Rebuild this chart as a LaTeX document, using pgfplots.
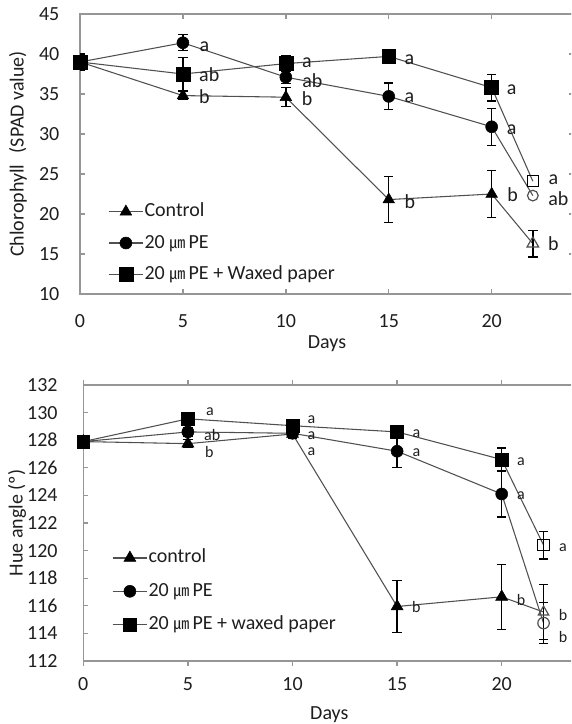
\documentclass[border=0pt]{standalone}
\usepackage{pgfplots}
\pgfplotsset{compat=1.18}
\usepackage{pgfplotstable}
\usepackage{fontspec}
\setmainfont{Carlito}
\newfontfamily\cjk{Noto Sans CJK KR}
\newcommand{\um}{{\cjk\fontsize{12}{12}\selectfont ㎛}}

% Chlorophyll (SPAD)
\pgfplotstableread{
x y e
0 39.0 0.3
5 34.8 0.5
10 34.6 1.2
15 21.8 2.85
20 22.5 2.95
22 16.3 1.67
}\chlC
\pgfplotstableread{
x y e
0 39.0 0.5
5 41.4 1.0
10 37.1 0.8
15 34.7 1.67
20 30.9 2.3
22 22.3 0.3
}\chlP
\pgfplotstableread{
x y e
0 39.0 1.0
5 37.5 2.1
10 38.8 1.0
15 39.7 0.5
20 35.8 1.67
22 24.1 0.3
}\chlW
% Hue angle
\pgfplotstableread{
x y e
0 127.9 0.2
5 127.75 0.3
10 128.45 0.3
15 115.95 1.87
20 116.65 2.35
22 115.55 2.0
}\hueC
\pgfplotstableread{
x y e
0 127.9 0.2
5 128.6 0.3
10 128.5 0.3
15 127.2 1.2
20 124.1 1.67
22 114.75 1.5
}\hueP
\pgfplotstableread{
x y e
0 127.9 0.2
5 129.55 0.3
10 129.05 0.3
15 128.6 0.4
20 126.6 0.84
22 120.4 1.0
}\hueW

\definecolor{axgray}{RGB}{150,150,150}
\definecolor{lngray}{RGB}{80,80,80}
\definecolor{txt}{RGB}{30,30,30}

\pgfplotsset{
  base/.style={
    scale only axis,
    xmin=0, xmax=24,
    xtick={0,5,10,15,20},
    axis line style={draw=axgray, line width=1.1pt},
    every tick/.style={draw=axgray, line width=1pt},
    major tick length=3.75pt,
    /pgf/number format/assume math mode=true,
    tick label style={font=\fontsize{15}{18}\selectfont, text=txt},
    label style={font=\fontsize{15}{18}\selectfont, text=txt},
    yticklabel style={xshift=-12pt},
    legend cell align=left,
    legend image code/.code={
      \draw[lngray, line width=0.9pt] (0pt,0pt) -- (26pt,0pt);
      \draw[##1] plot coordinates {(13pt,0pt)};
    },
  },
  conn/.style={lngray, line width=0.8pt, forget plot},
  eb/.style={error bars/.cd, y dir=both, y explicit,
    error bar style={black, line width=1pt},
    error mark options={rotate=90, black, mark size=3.5pt, line width=1pt}},
}

\begin{document}
\begin{tikzpicture}
\useasboundingbox (0,0) rectangle (428.25pt,543pt);
\clip (0,0) rectangle (428.25pt,543pt);

% ---------------- Top: Chlorophyll ----------------
\begin{axis}[base,
  at={(60pt,322.5pt)}, anchor=south west,
  width=370.5pt, height=210pt,
  ymin=10, ymax=45, ytick={10,15,...,45},
  tick align=inside,
  xticklabel style={yshift=-12pt},
  xlabel={Days},
  xlabel style={at={(axis description cs:0.5,-0.178)}, anchor=center},
  ylabel={Chlorophyll\hspace{0.35em} (SPAD value)},
  ylabel style={at={(axis description cs:-0.1255,0.5)}, anchor=center, rotate=0},
  legend style={at={(axis description cs:0.048,0.182)}, anchor=west,
    draw=none, fill=none, font=\fontsize{15}{18}\selectfont, text=txt,
    row sep=9pt, column sep=0pt,
    nodes={inner xsep=0.5pt, inner ysep=0pt, text height=11pt, text depth=3.5pt}},
]
\addplot[conn] table[x=x,y=y] {\chlC};
\addplot[conn] table[x=x,y=y] {\chlP};
\addplot[conn] table[x=x,y=y] {\chlW};

\addplot[only marks, black, mark=triangle*, mark size=5pt, restrict x to domain=0:20, eb]
  table[x=x,y=y,y error=e] {\chlC};
\addlegendentry{Control}
\addplot[only marks, black, mark=*, mark size=4.5pt, restrict x to domain=0:20, eb]
  table[x=x,y=y,y error=e] {\chlP};
\addlegendentry{20 \um\,PE}
\addplot[only marks, black, mark=square*, mark size=5.2pt, restrict x to domain=0:20, eb]
  table[x=x,y=y,y error=e] {\chlW};
\addlegendentry{20 \um\,PE + Waxed paper}

\addplot[only marks, forget plot, mark=triangle, mark size=5pt, mark options={draw=lngray, fill=white, line width=0.9pt}, restrict x to domain=21:23, eb]
  table[x=x,y=y,y error=e] {\chlC};
\addplot[only marks, forget plot, mark=o, mark size=4pt, mark options={draw=lngray, fill=white, line width=0.9pt}, restrict x to domain=21:23]
  table[x=x,y=y] {\chlP};
\addplot[only marks, forget plot, mark=square, mark size=4pt, mark options={draw=black, fill=white, line width=0.9pt}, restrict x to domain=21:23]
  table[x=x,y=y] {\chlW};

\begin{scope}[every node/.style={font=\fontsize{15}{18}\selectfont, text=txt, inner sep=0pt}]
\node at (axis cs:6.04,40.92) {a};
\node at (axis cs:6.28,37.38) {ab};
\node at (axis cs:6.04,34.67) {b};
\node at (axis cs:11.03,38.85) {a};
\node at (axis cs:11.29,36.65) {ab};
\node at (axis cs:11.03,34.4) {b};
\node at (axis cs:16.0,39.33) {a};
\node at (axis cs:16.0,34.55) {a};
\node at (axis cs:16.03,21.6) {b};
\node at (axis cs:20.97,35.5) {a};
\node at (axis cs:20.97,30.58) {a};
\node at (axis cs:21.02,22.4) {b};
\node at (axis cs:23.0,24.25) {a};
\node at (axis cs:23.24,21.95) {ab};
\node at (axis cs:23.0,16.25) {b};
\end{scope}
\end{axis}

% ---------------- Bottom: Hue angle ----------------
\begin{axis}[base,
  at={(62.475pt,47.25pt)}, anchor=south west,
  width=376.56pt, height=207pt,
  ymin=112, ymax=132, ytick={112,114,...,132},
  tick align=outside,
  y tick style={xshift=3.75pt},
  xticklabel style={yshift=-5pt},
  xlabel={Days},
  xlabel style={at={(axis description cs:0.49,-0.196)}, anchor=center},
  ylabel={Hue angle (º)},
  ylabel style={at={(axis description cs:-0.132,0.5)}, anchor=center, rotate=0},
  legend style={at={(axis description cs:0.0486,0.2525)}, anchor=west,
    draw=none, fill=none, font=\fontsize{15}{18}\selectfont, text=txt,
    row sep=10.5pt, column sep=0pt,
    nodes={inner xsep=0.5pt, inner ysep=0pt, text height=11pt, text depth=3.5pt}},
]
\addplot[conn] table[x=x,y=y] {\hueC};
\addplot[conn] table[x=x,y=y] {\hueP};
\addplot[conn] table[x=x,y=y] {\hueW};

\addplot[only marks, black, mark=triangle*, mark size=5.2pt, restrict x to domain=0:20, eb]
  table[x=x,y=y,y error=e] {\hueC};
\addlegendentry{control}
\addplot[only marks, black, mark=*, mark size=4.5pt, restrict x to domain=0:20, eb]
  table[x=x,y=y,y error=e] {\hueP};
\addlegendentry{20 \um\,PE}
\addplot[only marks, black, mark=square*, mark size=4.8pt, restrict x to domain=0:20, eb]
  table[x=x,y=y,y error=e] {\hueW};
\addlegendentry{20 \um\,PE + waxed paper}

\addplot[only marks, forget plot, mark=triangle, mark size=4.5pt, mark options={draw=lngray, fill=white, line width=0.9pt}, restrict x to domain=21:23, eb]
  table[x=x,y=y,y error=e] {\hueC};
\addplot[only marks, forget plot, mark=o, mark size=4.3pt, mark options={draw=lngray, fill=white, line width=0.9pt}, restrict x to domain=21:23, eb]
  table[x=x,y=y,y error=e] {\hueP};
\addplot[only marks, forget plot, mark=square, mark size=4.3pt, mark options={draw=black, fill=white, line width=0.9pt}, restrict x to domain=21:23, eb]
  table[x=x,y=y,y error=e] {\hueW};

\begin{scope}[every node/.style={font=\fontsize{12}{14}\selectfont, text=txt, inner sep=0pt}]
\node at (axis cs:6.05,130.1) {a};
\node at (axis cs:6.16,128.39) {ab};
\node at (axis cs:6.02,127.12) {b};
\node at (axis cs:10.9,129.5) {a};
\node at (axis cs:10.9,128.3) {a};
\node at (axis cs:10.9,127.15) {a};
\node at (axis cs:15.92,128.46) {a};
\node at (axis cs:15.92,127.07) {a};
\node at (axis cs:15.92,115.9) {b};
\node at (axis cs:20.92,126.46) {a};
\node at (axis cs:20.92,123.95) {a};
\node at (axis cs:20.92,116.44) {b};
\node at (axis cs:22.93,120.22) {a};
\node at (axis cs:22.93,115.3) {b};
\node at (axis cs:22.93,113.75) {b};
\end{scope}
\end{axis}
\end{tikzpicture}
\end{document}
